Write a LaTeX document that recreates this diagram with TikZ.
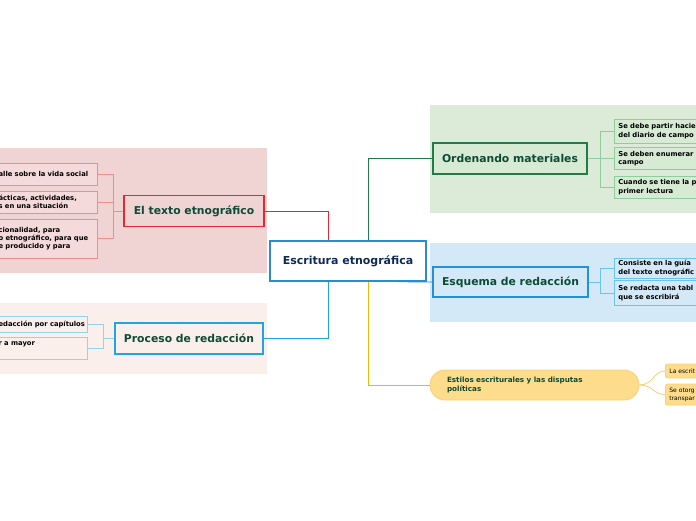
\documentclass[tikz,border=0pt]{standalone}
\usepackage{fontspec}
\setmainfont{DejaVu Sans}
\usetikzlibrary{positioning}
\definecolor{pinkbg}{HTML}{F0D4D4}
\definecolor{pinkleaf}{HTML}{F4DADA}
\definecolor{peachbg}{HTML}{FBEFEC}
\definecolor{greenbg}{HTML}{DCEBD8}
\definecolor{greenbox}{HTML}{D6EAD4}
\definecolor{bluebg}{HTML}{D3E9F8}
\definecolor{cred}{HTML}{E8262F}
\definecolor{lred}{HTML}{F08C8C}
\definecolor{ccyan}{HTML}{1FA5E0}
\definecolor{lcyan}{HTML}{92D3F2}
\definecolor{cgreen}{HTML}{1F7D48}
\definecolor{lgreen}{HTML}{8FCCA0}
\definecolor{cblue}{HTML}{2A8AD4}
\definecolor{cblue2}{HTML}{2391D9}
\definecolor{lblue}{HTML}{6CC3F0}
\definecolor{corange}{HTML}{F7B500}
\definecolor{lorange}{HTML}{F9D27A}
\definecolor{cpill}{HTML}{FDDC8C}
\definecolor{tgreen}{HTML}{0E4A35}
\definecolor{navy}{HTML}{102A58}
% text cut off on the left edge of the map
\newcommand\hid{\hspace*{55pt}}

\begin{document}
\begin{tikzpicture}[x=1pt,y=-1pt]
\tikzstyle{b}=[draw,line width=1.8pt,font=\fontsize{10.8}{12}\selectfont\bfseries,text=tgreen,minimum height=31pt]
\tikzstyle{leaf}=[draw,line width=0.8pt,align=left,font=\fontsize{6.8}{8.3}\selectfont\bfseries,inner xsep=4pt,inner ysep=2pt]
\tikzstyle{ln}=[line width=0.9pt]
\useasboundingbox (0,0) rectangle (696,520);
\clip (0,0) rectangle (696,520);
% areas
\fill[pinkbg] (0,148) rectangle (267,273); \fill[peachbg] (0,303) rectangle (267,374);
\fill[greenbg] (430,105) rectangle (696,213); \fill[bluebg] (430,243) rectangle (696,322);
% main topics
\node[draw=cblue,line width=1.4pt,fill=white,minimum width=156pt,minimum height=40pt,font=\fontsize{11}{12}\selectfont\bfseries,text=navy] (root) at (348,261) {Escritura etnográfica};
\node[b,draw=cred,fill=pinkbg,minimum width=140pt] (texto) at (194,211) {El texto etnográfico};
\node[b,draw=ccyan,fill=peachbg,minimum width=148pt] (proc) at (189,338.5) {Proceso de redacción};
\node[b,draw=cgreen,fill=greenbox,minimum width=154pt] (ord) at (510,158.5) {Ordenando materiales};
\node[b,draw=cblue2,fill=bluebg,minimum width=155pt,minimum height=30pt] (esq) at (510.5,282) {Esquema de redacción};
\node[draw=lorange,line width=0.9pt,fill=cpill,rounded corners=15pt,minimum height=30pt,text width=175pt,align=left,inner xsep=17pt,font=\fontsize{7.2}{9.5}\selectfont\bfseries,text=tgreen] (estilos) at (534.5,385) {Estilos escriturales y las disputas\\políticas};
\draw[ln,cred] ([xshift=-20pt]root.north) |- (texto.east);
\draw[ln,cgreen] ([xshift=20pt]root.north) |- (ord.west);
\draw[ln,ccyan] ([xshift=-20pt]root.south) |- (proc.east);
\draw[ln,corange] ([xshift=20pt]root.south) |- (estilos.west);
\draw[ln,cblue2] ([xshift=49pt]root.south) -- (esq.west);
% El texto etnografico
\node[leaf,draw=lred,fill=pinkleaf,anchor=east,text width=150pt,minimum height=22pt] (t1) at (98,174) {\hid alle sobre la vida social};
\node[leaf,draw=lred,fill=pinkleaf,anchor=east,text width=150pt,minimum height=22pt] (t2) at (98,202) {\hid ácticas, actividades,\\\hid s en una situación};
\node[leaf,draw=lred,fill=pinkleaf,anchor=east,text width=150pt,minimum height=39pt] (t3) at (98,238.5) {\hid cionalidad, para\\\hid o etnográfico, para que\\\hid e producido y para};
\foreach \c in {t1,t2,t3} \draw[ln,lred] (texto.west) -| ([xshift=15pt]\c.east) -- (\c.east);
% Proceso de redaccion
\node[leaf,draw=lcyan,fill=peachbg,anchor=east,text width=140pt,minimum height=16pt] (p1) at (88,324) {\hid\mbox{edacción por capítulos}};
\node[leaf,draw=lcyan,fill=peachbg,anchor=east,text width=140pt,minimum height=22pt] (p2) at (88,348) {\hid r a mayor\\\mbox{}};
\foreach \c in {p1,p2} \draw[ln,lcyan] (proc.west) -| ([xshift=15pt]\c.east) -- (\c.east);
% Ordenando materiales
\node[leaf,draw=lgreen,fill=greenbox,anchor=west,text width=100pt,minimum height=24pt] (g1) at (614,131) {Se debe partir hacie\\del diario de campo};
\node[leaf,draw=lgreen,fill=greenbox,anchor=west,text width=100pt,minimum height=22pt] (g2) at (614,158.5) {Se deben enumerar\\campo};
\node[leaf,draw=lgreen,fill=greenbox,anchor=west,text width=100pt,minimum height=22pt] (g3) at (614,187) {Cuando se tiene la p\\primer lectura};
\foreach \c in {g1,g2,g3} \draw[ln,lgreen] (ord.east) -| ([xshift=-14pt]\c.west) -- (\c.west);
% Esquema de redaccion
\node[leaf,draw=lblue,fill=bluebg,anchor=west,text width=100pt,minimum height=20pt] (e1) at (614,268) {Consiste en la guía\\del texto etnográfic};
\node[leaf,draw=lblue,fill=bluebg,anchor=west,text width=100pt,minimum height=25pt] (e2) at (614,293) {Se redacta una tabl\\que se escribirá};
\foreach \c in {e1,e2} \draw[ln,lblue] (esq.east) -| ([xshift=-14pt]\c.west) -- (\c.west);
% Estilos escriturales
\node[leaf,draw=lorange,fill=cpill,rounded corners=2pt,anchor=west,text width=60pt,minimum height=14pt,font=\fontsize{6}{8}\selectfont] (o1) at (665,371) {La escrit};
\node[leaf,draw=lorange,fill=cpill,rounded corners=2pt,anchor=west,text width=60pt,minimum height=21pt,font=\fontsize{6}{8}\selectfont] (o2) at (665,394.5) {Se otorg\\transpar};
\foreach \c in {o1,o2} \draw[ln,lorange] (estilos.east) .. controls +(14,0) and +(-12,0) .. (\c.west);
\end{tikzpicture}
\end{document}
